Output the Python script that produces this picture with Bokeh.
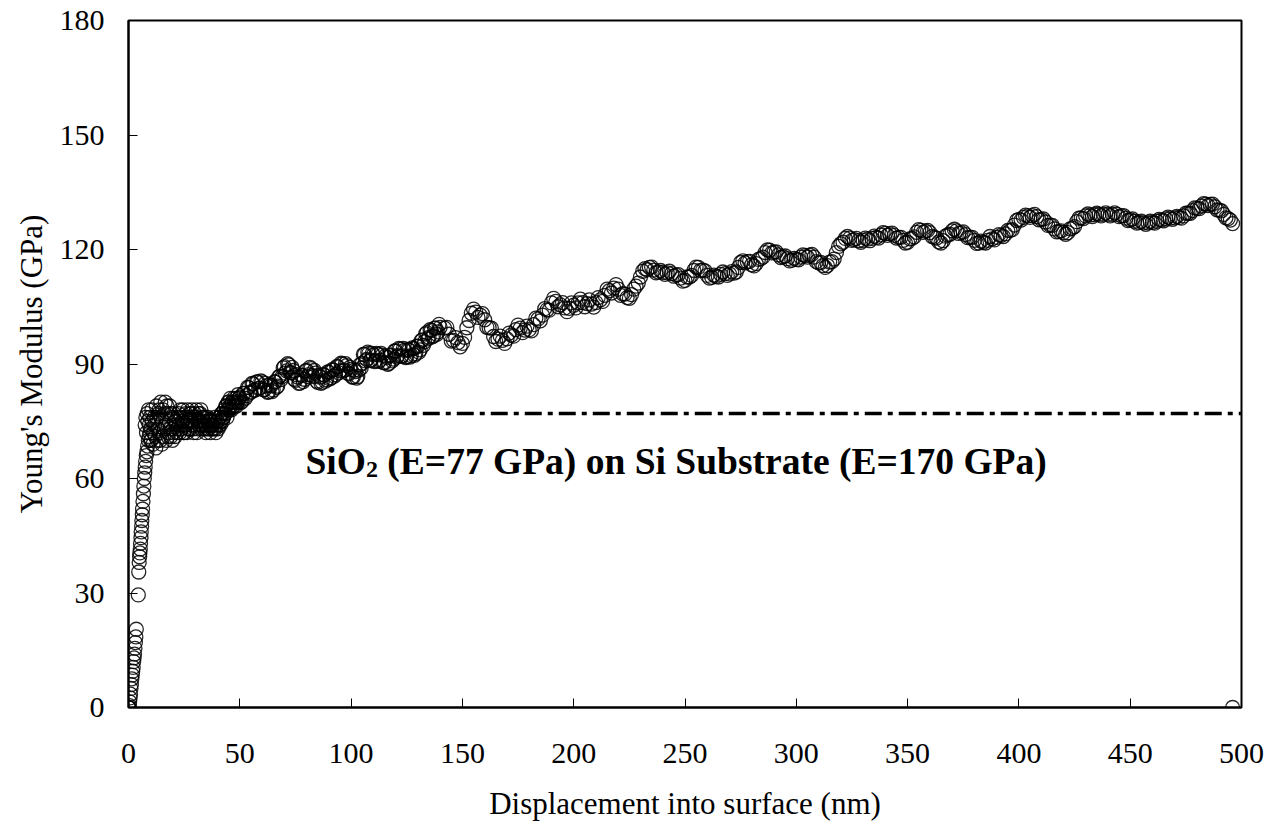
from bokeh.plotting import figure
from bokeh.models import Range1d, SingleIntervalTicker, Label
from bokeh.embed import file_html
from bokeh.resources import INLINE

# --- Nanoindentation data: displacement (nm) vs Young's modulus (GPa) ---

# initial contact / rise
disp_rise = [0, 0.1, 0.2, 0.4, 0.5, 0.7, 0.9, 1.1, 1.3, 1.5,
             1.7, 1.9, 2.1, 2.3, 2.5, 2.7, 2.9, 3.1, 3.3, 3.5,
             4.4, 4.6, 4.8, 5.0, 5.1, 5.3, 5.4, 5.6, 5.7, 5.9,
             6.0, 6.2, 6.3, 6.5, 6.7, 6.9, 7.1, 7.3, 7.5, 7.7,
             8.0, 8.3, 8.6, 8.9, 9.2, 9.6,
             7.5, 7.8, 8.1, 8.4, 8.7, 9.0, 9.3, 9.6, 9.9]
mod_rise = [0, 0, 0, 0.5, 1.5, 2.5, 3.5, 5, 6, 7.5,
            8.5, 9.5, 10.5, 12, 13, 14, 15.5, 17, 18.5, 20.5,
            29.5, 35.5, 38, 39.5, 40.5, 41.5, 43, 44.5, 46, 47.5,
            49, 50.5, 52, 54, 56, 58, 60, 61.5, 63, 64.5,
            66, 67, 68.5, 70, 71, 72,
            74, 76, 72, 77, 75, 78, 74, 76, 70]

# shallow plateau near the film modulus
disp_plateau = [10.0, 10.5, 11.0, 11.5, 12.0, 12.5, 13.0, 13.5, 14.0, 14.5,
                15.0, 15.5, 16.0, 16.5, 17.0, 17.5, 18.0, 18.5, 19.0, 19.5,
                20.0, 20.5, 21.0, 21.5, 22.0, 22.5, 23.0, 23.5, 24.0, 24.5,
                25.0, 25.5, 26.0, 26.5, 27.0, 27.5, 28.0, 28.5, 29.0, 29.5,
                30.0, 30.5, 31.0, 31.5, 32.0, 32.5, 33.0, 33.5, 34.0, 34.5,
                35.0, 35.5, 36.0, 36.5, 37.0, 37.5, 38.0, 38.5, 39.0, 39.5,
                40.0, 40.5, 41.0, 41.5, 42.0, 42.5, 43.0, 43.5, 44.0, 44.5,
                45.0, 45.5, 46.0, 46.5, 47.0, 47.5, 48.0, 48.5, 49.0, 49.5]
mod_plateau = [73, 78, 69, 76, 71, 79, 70, 77, 72, 80,
               69, 78, 73, 80, 70, 77, 72, 79, 71, 76,
               73, 77, 71, 75, 73, 77, 72, 76, 74, 78,
               72, 76, 74, 78, 73, 77, 75, 78, 73, 76,
               74, 78, 73, 77, 75, 78, 74, 76, 73, 76,
               74, 75, 73, 75, 74, 73, 74, 75, 73, 74,
               75, 74, 76, 75, 77, 76, 78, 77, 79, 78,
               80, 79, 79, 80, 79, 80, 80, 79, 80, 81]

disp_plateau_b = [10.25, 10.75, 11.25, 11.75, 12.25, 12.75, 13.25, 13.75, 14.25, 14.75,
                  15.25, 15.75, 16.25, 16.75, 17.25, 17.75, 18.25, 18.75, 19.25, 19.75,
                  20.25, 20.75, 21.25, 21.75, 22.25, 22.75, 23.25, 23.75, 24.25, 24.75,
                  25.25, 25.75, 26.25, 26.75, 27.25, 27.75, 28.25, 28.75, 29.25, 29.75,
                  30.25, 30.75, 31.25, 31.75, 32.25, 32.75, 33.25, 33.75, 34.25, 34.75,
                  35.25, 35.75, 36.25, 36.75, 37.25, 37.75, 38.25, 38.75, 39.25, 39.75,
                  40.25, 40.75, 41.25, 41.75, 42.25, 42.75, 43.25, 43.75, 44.25, 44.75,
                  45.25, 45.75, 46.25, 46.75, 47.25, 47.75, 48.25, 48.75, 49.25, 49.75]
mod_plateau_b = [70, 75, 72, 74, 68, 76, 73, 78, 70, 76,
                 75, 71, 77, 74, 79, 71, 75, 73, 77, 70,
                 72, 75, 74, 72, 76, 74, 78, 73, 75, 72,
                 74, 77, 72, 75, 76, 73, 77, 74, 72, 77,
                 76, 72, 75, 74, 77, 73, 76, 75, 74, 72,
                 73, 76, 74, 72, 75, 74, 73, 76, 72, 75,
                 73, 76, 74, 77, 75, 76, 77, 79, 76, 80,
                 78, 81, 78, 80, 81, 79, 81, 80, 82, 80]

# substrate influence begins
disp_mid = [50, 51, 52, 53, 54, 55, 56, 57, 58, 59,
            60, 61, 62, 63, 64, 65, 66, 67, 68, 69,
            70, 71, 72, 73, 74, 75, 76, 77, 78, 79,
            80, 81, 82, 83, 84, 85, 86, 87, 88, 89,
            90, 91, 92, 93, 94, 95, 96, 97, 98, 99,
            100, 101, 102, 103, 104, 105, 106, 107, 108, 109,
            110, 111, 112, 113, 114, 115, 116, 117, 118, 119,
            120, 121, 122, 123, 124, 125, 126, 127, 128, 129,
            130, 131, 132, 133, 134, 135, 136, 137, 138, 139,
            140]
mod_mid = [81.3, 80.2, 82.3, 81.7, 83.8, 82.7, 84.8, 83.2, 85.3, 83.7,
           85.3, 83.2, 84.3, 82.7, 84.3, 83.2, 85.3, 84.2, 86.8, 86.7,
           89.3, 88.2, 89.8, 87.7, 88.3, 85.7, 86.6, 85.0, 87.0, 86.0,
           88.3, 87.2, 88.8, 86.7, 87.6, 85.2, 86.6, 85.2, 87.1, 85.9,
           87.8, 86.4, 88.4, 87.2, 89.3, 88.2, 90.0, 88.4, 89.6, 87.4,
           88.6, 86.6, 88.0, 86.7, 89.8, 90.2, 92.5, 91.2, 92.8, 91.0,
           92.4, 90.8, 92.5, 91.0, 92.3, 90.3, 91.7, 90.2, 92.3, 91.3,
           93.4, 92.2, 93.9, 92.2, 93.6, 91.9, 93.6, 92.2, 94.0, 92.7,
           94.6, 93.7, 96.3, 95.8, 98.2, 97.0, 98.8, 97.4, 99.4, 98.4,
           99.6]

disp_mid_b = [50.5, 51.5, 52.5, 53.5, 54.5, 55.5, 56.5, 57.5, 58.5, 59.5,
              60.5, 61.5, 62.5, 63.5, 64.5, 65.5, 66.5, 67.5, 68.5, 69.5,
              70.5, 71.5, 72.5, 73.5, 74.5, 75.5, 76.5, 77.5, 78.5, 79.5,
              80.5, 81.5, 82.5, 83.5, 84.5, 85.5, 86.5, 87.5, 88.5, 89.5,
              90.5, 91.5, 92.5, 93.5, 94.5, 95.5, 96.5, 97.5, 98.5, 99.5,
              100.5, 101.5, 102.5, 103.5, 104.5, 105.5, 106.5, 107.5, 108.5, 109.5,
              110.5, 111.5, 112.5, 113.5, 114.5, 115.5, 116.5, 117.5, 118.5, 119.5,
              120.5, 121.5, 122.5, 123.5, 124.5, 125.5, 126.5, 127.5, 128.5, 129.5,
              130.5, 131.5, 132.5, 133.5, 134.5, 135.5, 136.5, 137.5, 138.5, 139.5]
mod_mid_b = [79.9, 82.3, 81.0, 83.9, 82.4, 84.9, 83.1, 85.3, 83.6, 85.6,
             83.3, 84.9, 82.6, 84.6, 82.8, 85.3, 83.9, 86.6, 85.9, 89.0,
             87.6, 90.1, 87.8, 89.1, 86.0, 87.2, 84.9, 87.1, 85.4, 88.2,
             86.7, 89.1, 87.0, 88.3, 85.5, 87.0, 84.9, 87.2, 85.5, 87.9,
             86.1, 88.5, 86.8, 89.3, 87.7, 90.2, 88.2, 90.1, 87.6, 89.1,
             86.6, 88.4, 86.3, 88.4, 88.9, 92.5, 90.8, 93.1, 90.9, 92.8,
             90.6, 92.8, 90.7, 92.8, 90.4, 92.1, 89.9, 92.2, 90.8, 93.4,
             91.8, 94.1, 92.0, 94.1, 91.7, 93.8, 91.8, 94.2, 92.3, 94.7,
             93.1, 96.1, 94.9, 97.9, 96.6, 99.0, 97.1, 99.4, 97.8, 100.4]

# deep indentation
disp_deep = [142, 144, 146, 148, 150, 152, 154, 156, 158, 160,
             162, 164, 166, 168, 170, 172, 174, 176, 178, 180,
             182, 184, 186, 188, 190, 192, 194, 196, 198, 200,
             202, 204, 206, 208, 210, 212, 214, 216, 218, 220,
             222, 224, 226, 228, 230, 232, 234, 236, 238, 240,
             242, 244, 246, 248, 250, 252, 254, 256, 258, 260,
             262, 264, 266, 268, 270, 272, 274, 276, 278, 280,
             282, 284, 286, 288, 290, 292, 294, 296, 298, 300,
             302, 304, 306, 308, 310, 312, 314, 316, 318, 320,
             322, 324, 326, 328, 330, 332, 334, 336, 338, 340,
             342, 344, 346, 348, 350, 352, 354, 356, 358, 360,
             362, 364, 366, 368, 370, 372, 374, 376, 378, 380,
             382, 384, 386, 388, 390, 392, 394, 396, 398, 400,
             402, 404, 406, 408, 410, 412, 414, 416, 418, 420,
             422, 424, 426, 428, 430, 432, 434, 436, 438, 440,
             442, 444, 446, 448, 450, 452, 454, 456, 458, 460,
             462, 464, 466, 468, 470, 472, 474, 476, 478, 480,
             482, 484, 486, 488, 490, 492, 494, 496]
mod_deep = [99.4, 97.8, 96.2, 95.6, 95.4, 99.5, 103.3, 103.6, 102.8, 101.6,
            99.5, 97.2, 96.5, 96.2, 96.6, 97.6, 99.0, 99.4, 98.9, 99.0,
            100.3, 101.8, 102.8, 104.2, 106.0, 106.4, 105.5, 104.7, 104.6, 105.4,
            106.0, 106.1, 105.8, 105.7, 106.1, 106.8, 108.0, 109.2, 109.9, 109.6,
            108.4, 107.4, 108.2, 110.4, 112.8, 115.0, 115.3, 114.6, 114.1, 114.0,
            113.9, 113.7, 113.3, 112.5, 111.9, 112.8, 114.5, 115.3, 114.6, 113.2,
            112.7, 113.0, 113.5, 113.7, 113.6, 113.8, 115.3, 117.0, 116.8, 116.0,
            116.3, 117.6, 119.2, 119.8, 119.3, 118.6, 118.1, 117.6, 117.2, 117.4,
            118.0, 118.4, 118.5, 118.0, 116.5, 115.8, 115.8, 116.8, 119.2, 121.5,
            122.9, 123.0, 122.6, 122.3, 122.4, 122.7, 122.9, 123.2, 123.8, 124.2,
            124.1, 123.7, 123.2, 122.4, 121.9, 122.9, 124.5, 125.0, 124.8, 124.4,
            123.2, 122.0, 122.3, 123.8, 124.9, 124.9, 124.4, 123.9, 123.2, 122.4,
            121.7, 121.9, 122.4, 122.8, 123.2, 123.7, 124.1, 125.0, 126.4, 127.9,
            128.4, 128.8, 128.9, 128.6, 127.9, 127.2, 126.4, 125.4, 124.7, 124.4,
            124.4, 125.6, 127.3, 128.3, 128.8, 129.0, 129.1, 129.2, 129.2, 129.2,
            129.2, 129.2, 128.8, 128.2, 127.8, 127.4, 127.1, 127.0, 127.0, 127.1,
            127.4, 127.7, 128.0, 128.2, 128.3, 128.4, 128.8, 129.5, 130.2, 130.8,
            131.4, 131.9, 131.8, 131.2, 130.3, 129.2, 128.1, 126.8]

disp_deep_b = [143, 145, 147, 149, 151, 153, 155, 157, 159, 161,
               163, 165, 167, 169, 171, 173, 175, 177, 179, 181,
               183, 185, 187, 189, 191, 193, 195, 197, 199, 201,
               203, 205, 207, 209, 211, 213, 215, 217, 219, 221,
               223, 225, 227, 229, 231, 233, 235, 237, 239, 241,
               243, 245, 247, 249, 251, 253, 255, 257, 259, 261,
               263, 265, 267, 269, 271, 273, 275, 277, 279, 281,
               283, 285, 287, 289, 291, 293, 295, 297, 299, 301,
               303, 305, 307, 309, 311, 313, 315, 317, 319, 321,
               323, 325, 327, 329, 331, 333, 335, 337, 339, 341,
               343, 345, 347, 349, 351, 353, 355, 357, 359, 361,
               363, 365, 367, 369, 371, 373, 375, 377, 379, 381,
               383, 385, 387, 389, 391, 393, 395, 397, 399, 401,
               403, 405, 407, 409, 411, 413, 415, 417, 419, 421,
               423, 425, 427, 429, 431, 433, 435, 437, 439, 441,
               443, 445, 447, 449, 451, 453, 455, 457, 459, 461,
               463, 465, 467, 469, 471, 473, 475, 477, 479, 481,
               483, 485, 487, 489, 491, 493, 495]
mod_deep_b = [99.6, 96.0, 96.9, 94.5, 97.0, 101.4, 104.4, 102.2, 103.2, 99.6,
              99.4, 95.9, 97.3, 95.4, 98.1, 97.3, 100.2, 98.2, 99.9, 98.7,
              102.0, 101.3, 104.5, 104.1, 107.2, 105.0, 106.1, 103.7, 106.0, 104.7,
              107.0, 105.0, 106.8, 104.9, 107.4, 106.4, 109.6, 108.6, 110.8, 108.0,
              108.3, 107.2, 109.6, 111.2, 114.3, 114.7, 115.4, 113.9, 114.5, 113.5,
              114.3, 113.0, 113.4, 111.7, 112.8, 113.2, 115.4, 114.5, 114.4, 112.5,
              113.3, 112.8, 114.1, 113.2, 114.2, 114.1, 116.6, 116.5, 116.9, 115.7,
              117.4, 118.0, 119.9, 119.1, 119.4, 117.9, 118.3, 117.0, 117.7, 117.3,
              118.6, 118.0, 118.7, 116.8, 116.6, 115.3, 116.7, 117.5, 120.8, 121.9,
              123.4, 122.4, 122.9, 121.9, 123.0, 122.3, 123.5, 123.0, 124.4, 123.7,
              124.3, 123.0, 123.2, 121.7, 122.8, 123.3, 125.2, 124.5, 125.0, 123.4,
              123.0, 121.7, 123.5, 124.0, 125.3, 124.2, 124.6, 123.1, 123.2, 121.6,
              122.2, 121.7, 123.4, 122.5, 123.9, 123.4, 125.0, 125.2, 127.6, 127.7,
              129.0, 128.4, 129.2, 127.8, 128.0, 126.3, 126.3, 124.6, 124.9, 124.0,
              125.4, 126.0, 128.2, 128.1, 129.3, 128.6, 129.5, 128.8, 129.6, 128.8,
              129.6, 128.6, 128.9, 127.6, 128.0, 126.9, 127.4, 126.6, 127.4, 126.9,
              127.9, 127.5, 128.5, 127.9, 128.7, 128.2, 129.5, 129.5, 130.9, 130.7,
              132.0, 131.5, 131.9, 130.4, 130.1, 128.3, 127.7]

# unloading point
disp_end = [496]
mod_end = [0]

# reference film modulus and its guide line extent
film_modulus = 77
guide_x = [10, 500]

x_ticks_step = 50
y_ticks_step = 30

disp = (disp_rise + disp_plateau + disp_plateau_b + disp_mid + disp_mid_b
        + disp_deep + disp_deep_b + disp_end)
modulus = (mod_rise + mod_plateau + mod_plateau_b + mod_mid + mod_mid_b
           + mod_deep + mod_deep_b + mod_end)

SERIF = "Liberation Serif"

p = figure(width=1278, height=830, output_backend="svg", toolbar_location=None,
           x_range=Range1d(0, 500), y_range=Range1d(0, 180),
           min_border_left=128, min_border_right=37,
           min_border_top=20, min_border_bottom=123,
           background_fill_color="white", border_fill_color="white")

p.xgrid.visible = False
p.ygrid.visible = False
p.outline_line_color = "black"
p.outline_line_width = 2
p.outline_line_alpha = 1

p.xaxis.ticker = SingleIntervalTicker(interval=x_ticks_step, num_minor_ticks=0)
p.yaxis.ticker = SingleIntervalTicker(interval=y_ticks_step, num_minor_ticks=0)

for ax in (p.xaxis[0], p.yaxis[0]):
    ax.axis_line_color = "black"
    ax.axis_line_width = 2
    ax.major_tick_in = 9
    ax.major_tick_out = 0
    ax.major_tick_line_color = "black"
    ax.major_tick_line_width = 1
    ax.minor_tick_in = 0
    ax.minor_tick_out = 0
    ax.major_label_text_font = SERIF
    ax.major_label_text_font_size = "30px"
    ax.major_label_text_color = "black"
    ax.axis_label_text_font = SERIF
    ax.axis_label_text_font_style = "normal"
    ax.axis_label_text_color = "black"

p.xaxis.axis_label = "Displacement into surface (nm)"
p.yaxis.axis_label = "Young's Modulus (GPa)"
p.xaxis.axis_label_text_font_size = "31px"
p.yaxis.axis_label_text_font_size = "31px"
p.xaxis.major_label_standoff = 36
p.yaxis.major_label_standoff = 24
p.xaxis.axis_label_standoff = 20
p.yaxis.axis_label_standoff = 8

# film modulus guide line (dash-dot)
p.line(x=guide_x, y=[film_modulus, film_modulus], line_color="black",
       line_width=3.5, line_dash="17 6 5 6")

# measured points as open circles
p.scatter(x=disp, y=modulus, marker="circle", size=14, fill_color=None,
          line_color="black", line_width=1.3, line_alpha=0.85)

# annotation: SiO2 (E=77 GPa) on Si Substrate (E=170 GPa)
ann_x, ann_y = 79.5, 64.5
main_size = 37.5
sub_size = 24
w_sio = 1.612 * main_size
w_sub = 0.5 * sub_size
w_space = 0.25 * main_size
common = dict(x=ann_x, y=ann_y, text_font=SERIF, text_font_style="bold",
              text_color="black", text_baseline="alphabetic", text_align="left")
p.add_layout(Label(text="SiO", text_font_size=f"{main_size}px", **common))
p.add_layout(Label(text="2", text_font_size=f"{sub_size}px",
                   x_offset=w_sio, y_offset=-8, **common))
p.add_layout(Label(text="(E=77 GPa) on Si Substrate (E=170 GPa)",
                   text_font_size=f"{main_size}px",
                   x_offset=w_sio + w_sub + w_space, **common))

open("out.html", "w").write(file_html(p, INLINE))
